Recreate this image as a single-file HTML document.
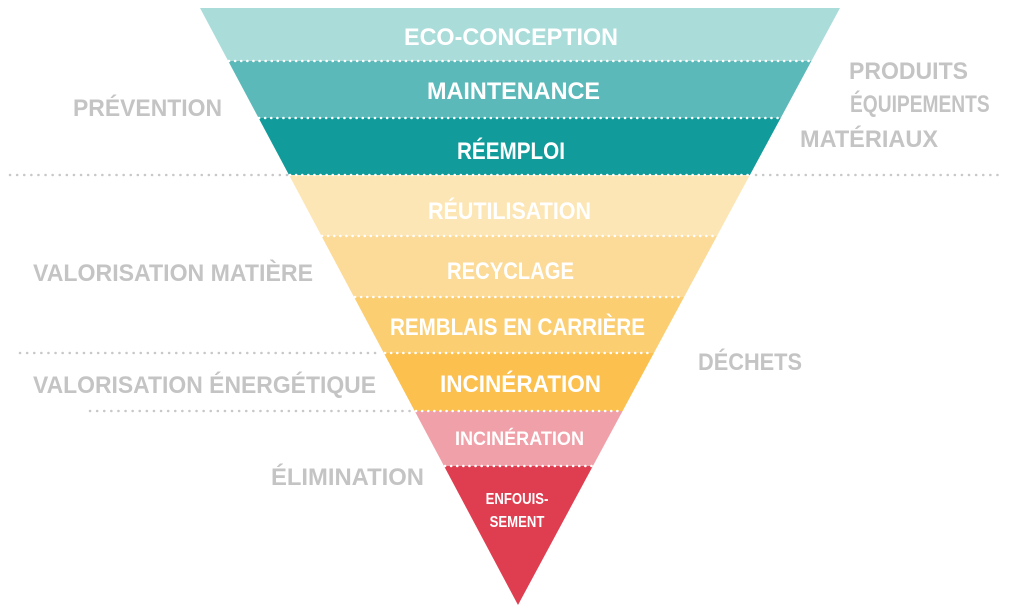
<!DOCTYPE html>
<html><head><meta charset="utf-8"><style>
html,body{margin:0;padding:0;background:#fff;width:1024px;height:609px;overflow:hidden}
svg{display:block}
text{font-family:"Liberation Sans",sans-serif;font-weight:bold}
.w{fill:#fff}
.g{fill:#c4c4c4}
</style></head><body>
<svg width="1024" height="609" viewBox="0 0 1024 609">
<polygon points="200,8 840,8 811.4,61 228.2,61" fill="#aadcda"/>
<polygon points="228.2,61 811.4,61 780.7,118 258.6,118" fill="#5bb9b9"/>
<polygon points="258.6,118 780.7,118 749.9,175 289,175" fill="#129b9b"/>
<polygon points="289,175 749.9,175 717,236 321.5,236" fill="#fde6b6"/>
<polygon points="321.5,236 717,236 684.1,297 354,297" fill="#fcda97"/>
<polygon points="354,297 684.1,297 653.9,353 383.8,353" fill="#fcce72"/>
<polygon points="383.8,353 653.9,353 622.6,411 414.7,411" fill="#fbc04e"/>
<polygon points="414.7,411 622.6,411 592.9,466 444,466" fill="#f0a0a9"/>
<polygon points="444,466 592.9,466 518,605" fill="#df3e51"/>
<g stroke="#fff" stroke-width="2.5" stroke-dasharray="0.1 6" stroke-linecap="round">
<line x1="229" y1="61" x2="811" y2="61"/>
<line x1="259" y1="118" x2="780" y2="118"/>
<line x1="290" y1="175" x2="749" y2="175"/>
<line x1="322" y1="236" x2="716" y2="236"/>
<line x1="355" y1="297" x2="683" y2="297"/>
<line x1="385" y1="353" x2="653" y2="353"/>
<line x1="416" y1="411" x2="622" y2="411"/>
<line x1="445" y1="466" x2="592" y2="466"/>
</g>
<g stroke="#c8c8c8" stroke-width="2.5" stroke-dasharray="0.1 7" stroke-linecap="round">
<line x1="10" y1="175" x2="288" y2="175"/>
<line x1="756" y1="175" x2="998" y2="175"/>
<line x1="20" y1="353" x2="382" y2="353"/>
<line x1="90" y1="411" x2="413" y2="411"/>
</g>
<g font-size="24">
<text class="w" x="404" y="45" textLength="214" lengthAdjust="spacingAndGlyphs">ECO-CONCEPTION</text>
<text class="w" x="427" y="99" textLength="173" lengthAdjust="spacingAndGlyphs">MAINTENANCE</text>
<text class="w" x="457" y="159" textLength="108" lengthAdjust="spacingAndGlyphs">RÉEMPLOI</text>
<text class="w" x="428" y="219" textLength="163" lengthAdjust="spacingAndGlyphs">RÉUTILISATION</text>
<text class="w" x="447" y="279" textLength="127" lengthAdjust="spacingAndGlyphs">RECYCLAGE</text>
<text class="w" x="390" y="335" textLength="255" lengthAdjust="spacingAndGlyphs">REMBLAIS EN CARRIÈRE</text>
<text class="w" x="440" y="392" textLength="161" lengthAdjust="spacingAndGlyphs">INCINÉRATION</text>
<text class="g" x="73" y="116" textLength="149" lengthAdjust="spacingAndGlyphs">PRÉVENTION</text>
<text class="g" x="849" y="79" textLength="119" lengthAdjust="spacingAndGlyphs">PRODUITS</text>
<text class="g" transform="translate(850,112) scale(0.8,1)" x="0" y="0">ÉQUIPEMENTS</text>
<text class="g" x="800" y="147" textLength="138" lengthAdjust="spacingAndGlyphs">MATÉRIAUX</text>
<text class="g" x="33" y="281" textLength="280" lengthAdjust="spacingAndGlyphs">VALORISATION MATIÈRE</text>
<text class="g" x="33" y="393" textLength="343" lengthAdjust="spacingAndGlyphs">VALORISATION ÉNERGÉTIQUE</text>
<text class="g" x="271" y="485" textLength="153" lengthAdjust="spacingAndGlyphs">ÉLIMINATION</text>
<text class="g" x="698" y="370" textLength="104" lengthAdjust="spacingAndGlyphs">DÉCHETS</text>
</g>
<text class="w" x="455" y="445" font-size="19" textLength="129" lengthAdjust="spacingAndGlyphs">INCINÉRATION</text>
<text class="w" font-size="16" text-anchor="middle" transform="translate(517,504) scale(0.82,1)">ENFOUIS-</text>
<text class="w" font-size="16" text-anchor="middle" transform="translate(517,527) scale(0.82,1)">SEMENT</text>
</svg>
</body></html>
